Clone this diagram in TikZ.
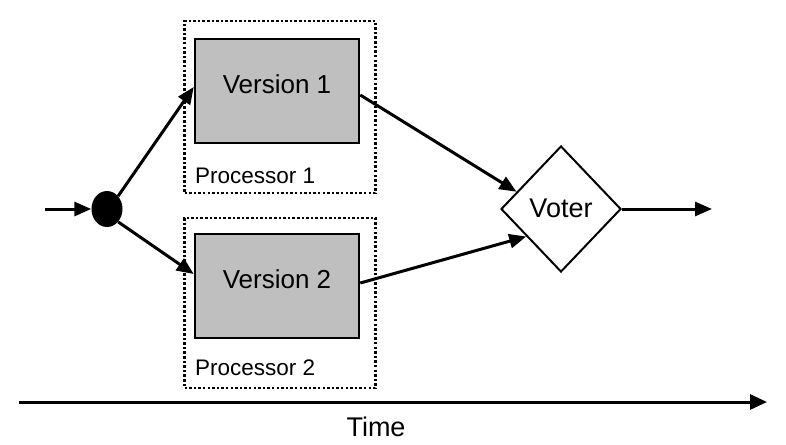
\documentclass[tikz,border=0pt]{standalone}
\usepackage{fontspec}
\setmainfont{Liberation Sans}
\usetikzlibrary{arrows.meta,shapes.geometric,calc}
\begin{document}
\begin{tikzpicture}[x=1pt,y=-1pt,
  proc/.style={draw,line width=2.8pt,dash pattern=on 2.5pt off 2.1pt,minimum width=191pt,inner sep=0pt},
  version/.style={draw,line width=2.5pt,fill=black!25,minimum width=164pt,minimum height=104pt,inner sep=0pt},
  lbl/.style={font=\fontsize{26}{28}\selectfont,inner sep=0pt},
  plbl/.style={font=\fontsize{22.5}{24}\selectfont,inner sep=0pt,anchor=west},
  arr/.style={line width=3pt,-{Triangle[length=17pt,width=14pt]}}
]
\useasboundingbox (0,0) rectangle (786,444);
% processors
\node[proc,minimum height=172pt] (p1) at (280,107) {};
\node[proc,minimum height=170pt] (p2) at (280,303) {};
\node[version] (v1) at (277,91) {};
\node[version] (v2) at (277,286) {};
\node[lbl] (v1t) at (277,84) {Version 1};
\node[lbl] (v2t) at (277,279) {Version 2};
\node[plbl] (p1t) at (195,176) {Processor 1};
\node[plbl] (p2t) at (195,368) {Processor 2};
% dot
\node[fill=black,ellipse,minimum width=31pt,minimum height=36pt,inner sep=0pt] (dot) at (107,209) {};
\coordinate (in) at (45,209);
% voter
\node[draw,line width=2pt,diamond,minimum width=120pt,minimum height=126pt,inner sep=0pt] (voter) at (561,209) {};
\node[font=\fontsize{27}{29}\selectfont,inner sep=0pt] (votert) at (561,208) {Voter};
\coordinate (out) at (712,209);
% time
\coordinate (t0) at (19,402);
\coordinate (t1) at (767,402);
\node[font=\fontsize{27}{29}\selectfont,inner sep=0pt] (time) at (376,427) {Time};
% connectors
\draw[arr] (in) -- (dot.west);
\draw[arr] (dot.north east) -- ([yshift=4pt]v1.west);
\draw[arr] (dot.south east) -- ([yshift=12pt]v2.west);
\draw[arr] ([yshift=-4pt]v1.east) -- ($(voter.west)!0.27!(voter.north)$);
\draw[arr] ([yshift=3pt]v2.east) -- ($(voter.west)!0.43!(voter.south)$);
\draw[arr] (voter.east) -- (out);
\draw[line width=3pt,-{Triangle[length=17pt,width=15pt]}] (t0) -- (t1);
\end{tikzpicture}
\end{document}
